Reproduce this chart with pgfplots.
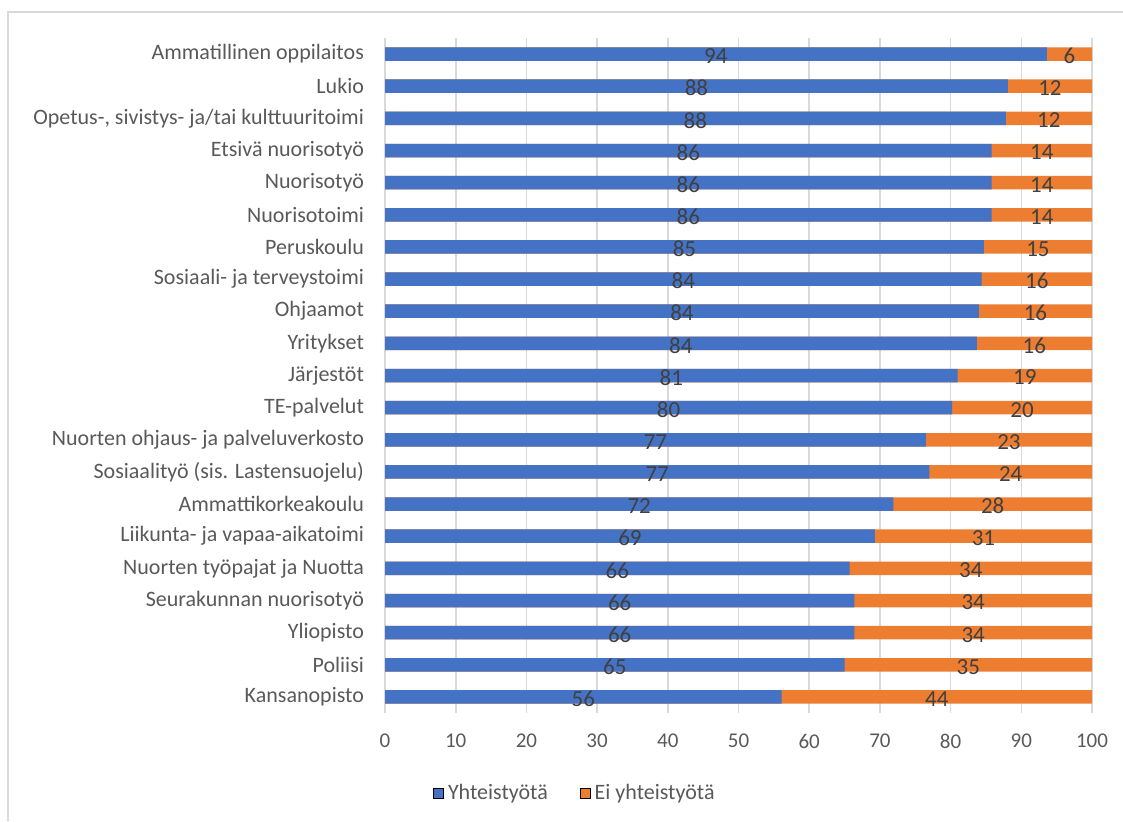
\documentclass[border=0pt]{standalone}
\usepackage{fontspec}
\setmainfont{Carlito}
\usepackage{pgfplots}
\usepackage{pgfplotstable}
\pgfplotsset{compat=1.18}
\definecolor{exblue}{HTML}{4472C4}
\definecolor{exorange}{HTML}{ED7D31}
\definecolor{gridgray}{HTML}{D9D9D9}
\definecolor{labgray}{HTML}{595959}
\definecolor{valgray}{HTML}{404040}
\pgfplotstableread{
y blue orange bl ol
20 93.6 6.4 94 6
19 88.1 11.9 88 12
18 87.8 12.2 88 12
17 85.8 14.2 86 14
16 85.8 14.2 86 14
15 85.8 14.2 86 14
14 84.7 15.3 85 15
13 84.4 15.6 84 16
12 84.0 16.0 84 16
11 83.7 16.3 84 16
10 81.0 19.0 81 19
9 80.2 19.8 80 20
8 76.5 23.5 77 23
7 77.0 23.0 77 24
6 71.9 28.1 72 28
5 69.3 30.7 69 31
4 65.7 34.3 66 34
3 66.4 33.6 66 34
2 66.4 33.6 66 34
1 65.0 35.0 65 35
0 56.1 43.9 56 44
}\data
\begin{document}
\begin{tikzpicture}[x=0.5pt,y=0.5pt]
\useasboundingbox (0,0) rectangle (1123,821);
\draw[gridgray, line width=1pt] (8,0) -- (8,809) -- (1123,809);
\begin{axis}[
  at={(192.5pt,54pt)}, anchor=south west,
  scale only axis, width=353.5pt, height=337.5pt,
  xmin=0, xmax=100, ymin=-0.5, ymax=20.5,
  xtick={0,10,...,100}, ytick={0,...,20},
  yticklabels={Kansanopisto,Poliisi,Yliopisto,Seurakunnan nuorisotyö,Nuorten työpajat ja Nuotta,Liikunta- ja vapaa-aikatoimi,Ammattikorkeakoulu,Sosiaalityö (sis. Lastensuojelu),Nuorten ohjaus- ja palveluverkosto,TE-palvelut,Järjestöt,Yritykset,Ohjaamot,Sosiaali- ja terveystoimi,Peruskoulu,Nuorisotoimi,Nuorisotyö,Etsivä nuorisotyö,{Opetus-, sivistys- ja/tai kulttuuritoimi},Lukio,Ammatillinen oppilaitos},
  axis lines*=left,
  x axis line style={draw=none},
  y axis line style={draw=gridgray, line width=0.8pt, -},
  xmajorgrids, grid style={gridgray, line width=0.8pt},
  major tick length=0pt,
  /pgf/number format/assume math mode=true,
  xticklabel style={font=\fontsize{10.5}{12}\selectfont, text=labgray, yshift=-7pt},
  yticklabel style={font=\fontsize{11}{13}\selectfont, text=labgray, xshift=-7pt},
  legend image code/.code={\fill[#1] (0pt,-2.5pt) rectangle (5pt,2.5pt);},
  legend style={at={(0.27,-0.119)}, anchor=center, draw=none, legend columns=2,
    font=\fontsize{11}{13}\selectfont, text=labgray,
    /tikz/every even column/.append style={column sep=14pt}},
]
\addplot[xbar, bar shift=0pt, bar width=6.75pt, fill=exorange, draw=none, forget plot]
  table[x expr=\thisrow{blue}+\thisrow{orange}, y=y]{\data};
\addplot[xbar, bar shift=0pt, bar width=6.75pt, fill=exblue, draw=none, forget plot]
  table[x=blue, y=y]{\data};
\addplot[draw=none, mark=none, forget plot, nodes near coords, point meta=explicit symbolic,
  every node near coord/.append style={anchor=center, yshift=-1pt, text=valgray, font=\fontsize{11.5}{13}\selectfont}]
  table[x expr=\thisrow{blue}/2, y=y, meta=bl]{\data};
\addplot[draw=none, mark=none, forget plot, nodes near coords, point meta=explicit symbolic,
  every node near coord/.append style={anchor=center, yshift=-1pt, text=valgray, font=\fontsize{11.5}{13}\selectfont}]
  table[x expr=(\thisrow{blue}+100)/2, y=y, meta=ol]{\data};
\addlegendimage{fill=exblue}
\addlegendentry{Yhteistyötä}
\addlegendimage{fill=exorange}
\addlegendentry{Ei yhteistyötä}
\end{axis}
\end{tikzpicture}
\end{document}
